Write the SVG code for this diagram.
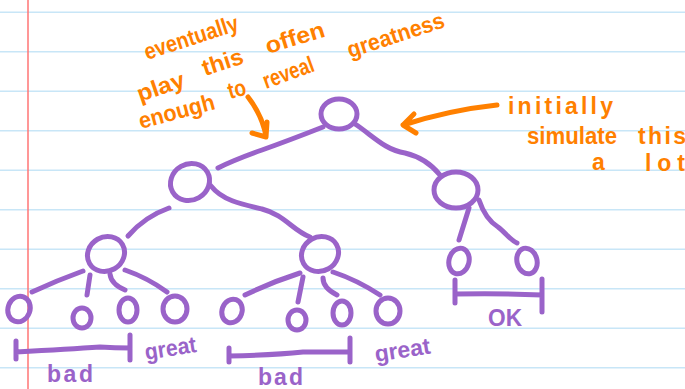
<svg xmlns="http://www.w3.org/2000/svg" width="685" height="389" viewBox="0 0 685 389">
<style>
.rule{stroke:#c8e6f7;stroke-width:1.5}
.margin{stroke:#ff7474;stroke-width:1.5}
.n{fill:none;stroke:#9a63c9;stroke-width:5;stroke-linecap:round;stroke-linejoin:round}
.e{fill:none;stroke:#9a63c9;stroke-width:5;stroke-linecap:round;stroke-linejoin:round}
.oa{fill:none;stroke:#ff8000;stroke-width:5;stroke-linecap:round;stroke-linejoin:round}
.ot{fill:#ff8000;font-family:"Liberation Sans",Arial,sans-serif;font-weight:700;font-size:23px}
.pt{fill:#9a63c9;font-family:"Liberation Sans",Arial,sans-serif;font-weight:700;font-size:23px}
</style>
<rect width="685" height="389" fill="#ffffff"/>
<g id="paper">
<line class="rule" x1="0" y1="12.3" x2="685" y2="12.3"/>
<line class="rule" x1="0" y1="51.8" x2="685" y2="51.8"/>
<line class="rule" x1="0" y1="91.3" x2="685" y2="91.3"/>
<line class="rule" x1="0" y1="130.8" x2="685" y2="130.8"/>
<line class="rule" x1="0" y1="170.3" x2="685" y2="170.3"/>
<line class="rule" x1="0" y1="209.8" x2="685" y2="209.8"/>
<line class="rule" x1="0" y1="249.3" x2="685" y2="249.3"/>
<line class="rule" x1="0" y1="288.8" x2="685" y2="288.8"/>
<line class="rule" x1="0" y1="328.3" x2="685" y2="328.3"/>
<line class="rule" x1="0" y1="367.8" x2="685" y2="367.8"/>
<line class="margin" x1="28" y1="0" x2="28" y2="389"/>
</g>
<g id="connectors">
<path class="e" d="M323,127 Q290,140 262,150 T218,168"/>
<path class="e" d="M355,124 C372,135 385,150 405,153 C422,157 432,165 440,175"/>
<path class="e" d="M169,208 C155,213 140,222 128,236"/>
<path class="e" d="M211,186 C222,200 240,204 262,209 C285,215 292,230 310,237"/>
<path class="e" d="M469,208 L459,240"/>
<path class="e" d="M479,200 C483,212 490,222 498,227 C505,232 510,240 517,243"/>
<path class="e" d="M83,271 Q58,280 32,292"/>
<path class="e" d="M90,275 L87,295"/>
<path class="e" d="M110,274 Q111,284 125,290"/>
<path class="e" d="M125,270 Q148,278 167,292"/>
<path class="e" d="M300,273 Q272,282 245,295"/>
<path class="e" d="M303,277 L298,302"/>
<path class="e" d="M323,278 Q323,288 337,295"/>
<path class="e" d="M333,272 Q357,280 380,295"/>
</g>
<g id="root"><ellipse class="n" cx="339" cy="114" rx="18" ry="15"/></g>
<g id="n-left"><ellipse class="n" cx="190" cy="182" rx="20" ry="18" transform="rotate(-30 190 182)"/></g>
<g id="n-right"><ellipse class="n" cx="456" cy="190" rx="22" ry="18"/></g>
<g id="n-ll"><ellipse class="n" cx="106" cy="254" rx="19" ry="17" transform="rotate(-30 106 254)"/></g>
<g id="n-lr"><ellipse class="n" cx="320" cy="254" rx="19" ry="17" transform="rotate(-30 320 254)"/></g>
<g id="n-rl"><ellipse class="n" cx="459" cy="261" rx="10" ry="13" transform="rotate(15 459 261)"/></g>
<g id="n-rr"><ellipse class="n" cx="527" cy="261" rx="10" ry="13" transform="rotate(-15 527 261)"/></g>
<g id="leaf1"><ellipse class="n" cx="19" cy="309" rx="11" ry="13" transform="rotate(20 19 309)"/></g>
<g id="leaf2"><ellipse class="n" cx="82" cy="318" rx="9" ry="10"/></g>
<g id="leaf3"><ellipse class="n" cx="128" cy="310" rx="9" ry="12"/></g>
<g id="leaf4"><ellipse class="n" cx="175" cy="309" rx="12" ry="13"/></g>
<g id="leaf5"><ellipse class="n" cx="232" cy="311" rx="10" ry="12" transform="rotate(20 232 311)"/></g>
<g id="leaf6"><ellipse class="n" cx="297" cy="320" rx="9" ry="10"/></g>
<g id="leaf7"><ellipse class="n" cx="342" cy="313" rx="9" ry="12"/></g>
<g id="leaf8"><ellipse class="n" cx="388" cy="311" rx="12" ry="13"/></g>
<g id="bracket-bad1">
<path class="e" d="M16,341 L16,359 M16,352 Q70,349 100,347 Q115,348 130,348 M130,335 L130,360"/>
<text class="pt" x="47" y="382" textLength="46" lengthAdjust="spacing">bad</text>
</g>
<text class="pt" transform="translate(146,360) rotate(-9)" textLength="52" lengthAdjust="spacingAndGlyphs">great</text>
<g id="bracket-bad2">
<path class="e" d="M229,348 L229,362 M229,356 Q275,355 303,352 Q330,352 350,352 M350,338 L350,362"/>
<text class="pt" x="258" y="385" textLength="45" lengthAdjust="spacing">bad</text>
</g>
<text class="pt" transform="translate(376,362) rotate(-9)" textLength="56" lengthAdjust="spacing">great</text>
<g id="bracket-ok">
<path class="e" d="M455,280 L455,303 M455,294 Q500,293 542,295 M542,279 L542,312"/>
<text class="pt" x="488" y="326" textLength="34" lengthAdjust="spacingAndGlyphs">OK</text>
</g>
<g id="note-left">
<text class="ot" transform="translate(147,60) rotate(-18)" textLength="98" lengthAdjust="spacingAndGlyphs">eventually</text>
<text class="ot" transform="translate(140,102) rotate(-19)" textLength="49" lengthAdjust="spacingAndGlyphs">play</text>
<text class="ot" transform="translate(205,76) rotate(-18)" textLength="42" lengthAdjust="spacingAndGlyphs">this</text>
<text class="ot" transform="translate(268,54) rotate(-17)" textLength="61" lengthAdjust="spacingAndGlyphs">offen</text>
<text class="ot" transform="translate(141,129) rotate(-15)" textLength="78" lengthAdjust="spacingAndGlyphs">enough</text>
<text class="ot" transform="translate(230,99) rotate(-15)" textLength="18" lengthAdjust="spacingAndGlyphs">to</text>
<text class="ot" transform="translate(266,89) rotate(-20)" textLength="53" lengthAdjust="spacingAndGlyphs">reveal</text>
<text class="ot" transform="translate(350,58) rotate(-18)" textLength="101" lengthAdjust="spacingAndGlyphs">greatness</text>
<path class="oa" d="M248,97 Q262,115 266,136 M252,133 L266,137 L267,122"/>
</g>
<g id="note-right">
<text class="ot" x="508" y="114" textLength="105" lengthAdjust="spacing">initially</text>
<text class="ot" x="527" y="144" textLength="90" lengthAdjust="spacingAndGlyphs">simulate</text>
<text class="ot" x="638" y="144" textLength="48" lengthAdjust="spacing">this</text>
<text class="ot" x="592" y="170">a</text>
<text class="ot" x="645" y="171" textLength="40" lengthAdjust="spacing">lot</text>
<path class="oa" d="M497,105 Q450,110 403,125 M414,114 L403,125 L416,133"/>
</g>
</svg>
